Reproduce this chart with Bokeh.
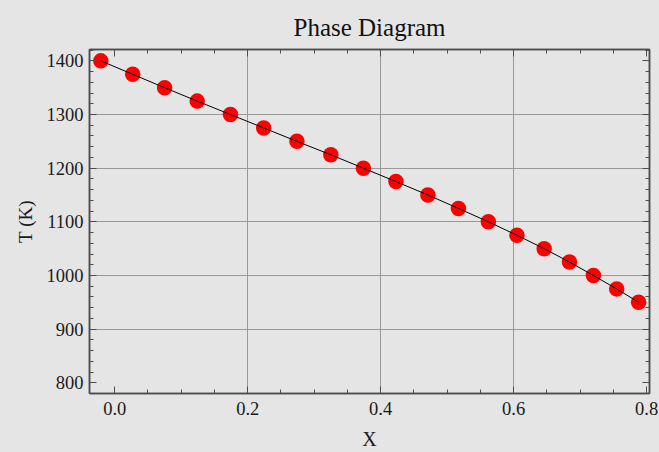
from bokeh.plotting import figure
from bokeh.models import (Range1d, LinearAxis, SingleIntervalTicker, FixedTicker,
                          CustomJSTickFormatter, PrintfTickFormatter,
                          ColumnDataSource, GlobalInlineStyleSheet)
from bokeh.embed import file_html
from bokeh.resources import INLINE

# ---- data ----
x_vals = [-0.021, 0.027, 0.075, 0.124, 0.174, 0.224, 0.274, 0.325, 0.374, 0.423,
          0.471, 0.517, 0.562, 0.605, 0.646, 0.684, 0.720, 0.755, 0.788]
t_vals = [1400, 1375, 1350, 1325, 1300, 1275, 1250, 1225, 1200, 1175,
          1150, 1125, 1100, 1075, 1050, 1025, 1000, 975, 950]
grid_x = [0.2, 0.4, 0.6]
grid_y = [900, 1000, 1100, 1200, 1300]

title_text = "Phase Diagram"
x_label = "X"
y_label = "T (K)"

BG = "#e5e5e5"
FRAME = "#4d4d4d"
FONT = "Liberation Serif"

src = ColumnDataSource(data=dict(x=x_vals, t=t_vals))

p = figure(width=659, height=452, output_backend="svg", toolbar_location=None,
           x_range=Range1d(-0.038, 0.8044), y_range=Range1d(780, 1421.2),
           title=title_text, x_axis_label=x_label, y_axis_label=y_label)

p.min_border_left = 89
p.min_border_right = 10
p.min_border_top = 49
p.min_border_bottom = 57

p.background_fill_color = BG
p.border_fill_color = BG
p.outline_line_color = FRAME
p.outline_line_width = 1.5

p.title.text_font = FONT
p.title.text_font_size = "25px"
p.title.text_font_style = "normal"
p.title.text_color = "#111111"
p.title.align = "center"
p.title.standoff = 18

p.stylesheets = [GlobalInlineStyleSheet(
    css="html, body { margin: 0; padding: 0; background-color: %s; }" % BG)]

def style_axis(ax, labels=True, font=FONT):
    ax.axis_line_color = FRAME
    ax.axis_line_width = 1.5
    ax.major_tick_line_color = FRAME
    ax.minor_tick_line_color = FRAME
    ax.major_tick_in = 7
    ax.major_tick_out = 0
    ax.minor_tick_in = 4
    ax.minor_tick_out = 0
    ax.major_label_text_font = font
    ax.major_label_text_font_style = "normal"
    ax.major_label_text_font_size = "18.5px"
    ax.major_label_text_color = "#1a1a1a"
    ax.axis_label_text_font = FONT
    ax.axis_label_text_font_style = "normal"
    ax.axis_label_text_color = "#1a1a1a"
    if not labels:
        ax.formatter = CustomJSTickFormatter(code="return '';")
        ax.major_label_standoff = 0

xaxis = p.xaxis[0]
yaxis = p.yaxis[0]
xaxis.ticker = SingleIntervalTicker(interval=0.2, num_minor_ticks=4)
yaxis.ticker = SingleIntervalTicker(interval=100, num_minor_ticks=5)
xaxis.formatter = PrintfTickFormatter(format="%.1f")
yaxis.formatter = PrintfTickFormatter(format="%d")

style_axis(xaxis)
xaxis.major_label_standoff = 8
xaxis.axis_label_text_font_size = "20px"
xaxis.axis_label_standoff = 10

style_axis(yaxis)
yaxis.major_label_standoff = 6
yaxis.axis_label_text_font_size = "19px"
yaxis.axis_label_standoff = 8

top_ax = LinearAxis(ticker=SingleIntervalTicker(interval=0.2, num_minor_ticks=4))
style_axis(top_ax, labels=False)
p.add_layout(top_ax, "above")
right_ax = LinearAxis(ticker=SingleIntervalTicker(interval=100, num_minor_ticks=5))
style_axis(right_ax, labels=False)
p.add_layout(right_ax, "right")

p.xgrid.ticker = FixedTicker(ticks=grid_x)
p.ygrid.ticker = FixedTicker(ticks=grid_y)
for g in (p.xgrid, p.ygrid):
    g.grid_line_color = "#999999"
    g.grid_line_width = 1

p.scatter("x", "t", source=src, size=15.5, fill_color="#ff0000", line_color=None)
p.line("x", "t", source=src, line_color="black", line_width=1)

open("out.html", "w").write(file_html(p, INLINE))
